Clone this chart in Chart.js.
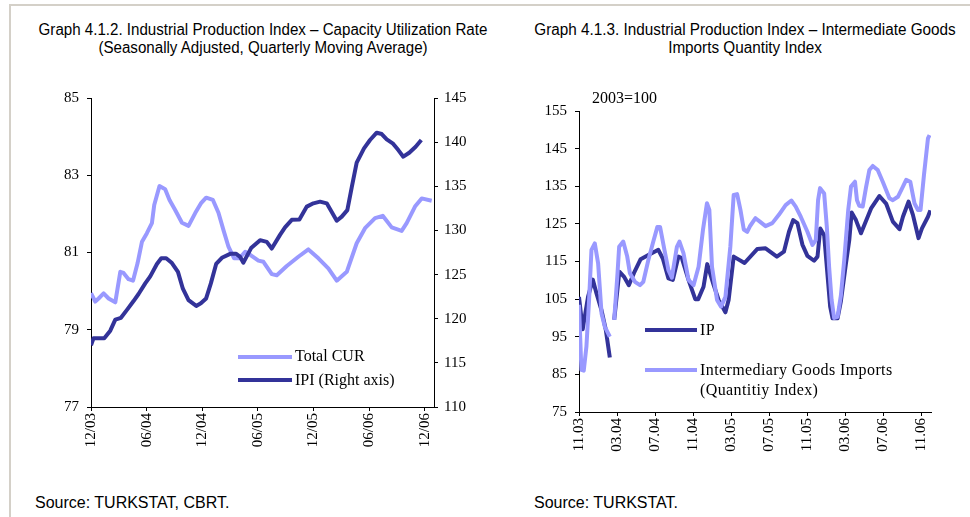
<!DOCTYPE html>
<html><head><meta charset="utf-8">
<script src="https://cdn.jsdelivr.net/npm/chart.js@4.4.1/dist/chart.umd.min.js"></script>
<style>
html,body{margin:0;padding:0;background:#fff;}
body{width:970px;height:517px;position:relative;overflow:hidden;font-family:"Liberation Sans",Arial,sans-serif;}
.frame-top{position:absolute;left:9px;top:4px;width:961px;height:2px;background:#d4d0c8;}
.frame-left{position:absolute;left:9px;top:4px;width:2px;height:513px;background:#d4d0c8;}
.tb{position:absolute;width:600px;text-align:center;}
.t{display:block;font-size:16px;color:#000;white-space:nowrap;line-height:18px;transform:scaleX(0.945);transform-origin:center;}
.src{position:absolute;font-size:16px;color:#000;white-space:nowrap;line-height:18px;}
canvas{position:absolute;}
.leg{position:absolute;font-family:"Liberation Serif","DejaVu Serif",serif;font-size:16px;color:#000;white-space:nowrap;line-height:18px;}
.sw{position:absolute;height:4px;}
</style>
</head>
<body>
<div class="frame-top"></div>
<div class="frame-left"></div>

<div class="tb" style="left:-37px;top:21px;">
  <span class="t">Graph 4.1.2. Industrial Production Index – Capacity Utilization Rate</span>
  <span class="t">(Seasonally Adjusted, Quarterly Moving Average)</span>
</div>
<div class="tb" style="left:445px;top:21px;">
  <span class="t" style="transform:scaleX(0.955);">Graph 4.1.3. Industrial Production Index – Intermediate Goods</span>
  <span class="t" style="transform:scaleX(0.955);">Imports Quantity Index</span>
</div>

<canvas id="c1" width="440" height="400" style="left:40px;top:80px;"></canvas>
<canvas id="c2" width="440" height="400" style="left:530px;top:80px;"></canvas>

<div class="leg" style="left:592px;top:89px;">2003=100</div>

<div class="sw" style="left:238px;top:355px;width:54px;background:#9999FF;"></div>
<div class="leg" style="left:295px;top:347px;">Total CUR</div>
<div class="sw" style="left:238px;top:378px;width:54px;background:#333399;"></div>
<div class="leg" style="left:295px;top:371px;">IPI (Right axis)</div>

<div class="sw" style="left:645px;top:328px;width:52px;background:#333399;"></div>
<div class="leg" style="left:700px;top:321px;letter-spacing:0.4px;">IP</div>
<div class="sw" style="left:645px;top:368px;width:52px;background:#9999FF;"></div>
<div class="leg" style="left:700px;top:361px;letter-spacing:0.4px;">Intermediary Goods Imports</div>
<div class="leg" style="left:700px;top:381px;letter-spacing:0.4px;">(Quantitiy Index)</div>

<div class="src" style="left:35px;top:494px;">Source: TURKSTAT, CBRT.</div>
<div class="src" style="left:534px;top:494px;">Source: TURKSTAT.</div>

<script>
// ---- Graph 4.1.2 (months counted from 12/03) ----
const leftTickLabels = ['12/03','06/04','12/04','06/05','12/05','06/06','12/06'];
const leftTickMonths = [0,6,12,18,24,30,36];
const curMonths = [0,0.46,0.82,1.36,1.90,2.62,3.16,3.51,4.05,4.53,5.02,5.50,6.03,6.57,6.82,7.39,8.00,8.47,9.08,9.81,10.52,11.24,11.85,12.42,13.15,13.75,14.29,14.83,15.44,16.01,16.63,17.17,18.06,18.60,19.50,20.04,21.12,22.37,23.45,24.53,25.60,26.51,27.59,28.66,29.56,30.64,31.47,32.44,33.51,34.05,34.95,35.67,36.75];
const curValues = [79.95,79.73,79.81,79.94,79.81,79.71,80.50,80.47,80.31,80.27,80.72,81.28,81.50,81.76,82.23,82.72,82.64,82.36,82.10,81.77,81.69,82.02,82.27,82.42,82.36,82.03,81.58,81.15,80.85,80.85,81.02,80.94,80.79,80.76,80.44,80.41,80.65,80.89,81.08,80.85,80.59,80.27,80.50,81.24,81.63,81.89,81.95,81.65,81.56,81.76,82.19,82.40,82.34];
const ipiMonths = [0,0.28,1.43,2.08,2.62,3.23,3.88,4.59,5.13,5.85,6.39,7.11,7.58,8.11,8.73,9.38,9.91,10.52,11.35,11.85,12.42,12.93,13.50,14.12,15.01,15.66,16.09,16.44,17.27,18.24,18.96,19.50,20.39,20.93,21.66,22.48,23.28,23.99,24.71,25.43,25.97,26.51,27.05,27.65,28.13,28.66,29.45,30.10,30.82,31.36,31.90,32.54,33.15,33.69,34.33,35.02,35.63];
const ipiValues = [117.0,117.8,117.8,118.65,119.9,120.1,121.0,122.0,122.8,124.0,124.8,126.2,126.85,126.85,126.3,125.3,123.4,122.1,121.45,121.75,122.3,124.0,126.2,126.9,127.35,127.35,127.0,126.35,128.0,128.9,128.7,127.95,129.5,130.35,131.2,131.25,132.7,133.07,133.26,133.07,132.1,131.1,131.56,132.3,134.9,137.67,139.3,140.24,141.07,140.92,140.32,139.87,139.1,138.35,138.8,139.48,140.24];

// ---- Graph 4.1.3 (months counted from 11.03) ----
const rightTickLabels = ['11.03','03.04','07.04','11.04','03.05','07.05','11.05','03.06','07.06','11.06'];
const rightTickMonths = [0,4,8,12,16,20,24,28,32,36];
const ipMonths = [0,0.39,0.95,1.45,1.84,2.37,2.82,3.24,3.47,3.70,4.24,4.72,5.24,5.77,6.48,7.29,8.34,8.81,9.40,9.86,10.45,10.81,11.51,12.22,12.53,13.09,13.48,14.15,14.68,15.39,15.73,16.26,17.40,18.73,19.61,20.80,21.54,22.07,22.51,22.96,23.48,24.01,24.71,25.07,25.36,25.77,26.40,26.65,27.18,27.53,28.06,28.41,28.66,29.11,29.64,30.70,31.57,32.28,32.99,33.69,34.05,34.64,35.10,35.69,36.05,36.68,36.93];
const ipValues = [105.6,97.0,105.6,110.2,106.5,102.0,96.8,89.5,null,99.5,112.3,111.0,108.7,111.9,115.6,116.7,118.1,115.8,110.5,110.1,116.3,115.9,110.1,105.0,105.0,108.3,114.3,108.8,104.8,101.5,104.8,116.3,114.6,118.3,118.5,116.3,117.6,122.9,126.0,125.2,119.5,116.5,115.2,116.3,123.8,122.0,103.0,99.9,99.9,104.5,114.5,120.7,128.0,126.0,122.5,129.1,132.4,130.4,125.6,123.6,126.9,130.9,127.4,121.2,123.8,126.9,128.6];
const impMonths = [0,0.25,0.50,0.78,1.06,1.31,1.66,2.01,2.37,2.71,3.24,3.47,3.70,4.05,4.22,4.65,5.07,5.35,5.88,6.41,6.76,7.29,7.81,8.24,8.52,8.98,9.40,9.76,10.29,10.56,10.98,11.51,12.04,12.57,13.03,13.45,13.70,13.98,14.51,14.93,15.39,15.91,16.26,16.62,16.97,17.32,17.68,17.95,18.55,19.01,19.61,20.32,21.01,21.72,22.32,22.78,23.31,24.01,24.54,24.89,25.13,25.34,25.77,26.05,26.29,26.55,26.82,27.18,27.53,27.88,28.30,28.59,29.01,29.22,29.46,29.82,30.17,30.52,30.88,31.40,31.93,32.63,32.99,33.52,34.05,34.39,34.82,35.27,35.63,35.90,36.26,36.68,36.85];
const impValues = [103.5,86.2,86.0,92.4,104.8,118.1,119.8,114.5,101.2,97.7,95.0,null,99.5,111.9,118.9,120.3,116.3,111.9,109.6,108.7,109.6,115.4,120.3,124.2,124.2,118.1,112.7,110.7,118.9,120.3,117.2,110.1,108.7,113.6,123.4,130.5,128.7,113.6,104.8,103.0,105.6,119.0,132.7,132.9,128.7,123.5,122.9,124.3,126.5,125.6,124.4,125.2,127.4,130.0,131.2,129.6,126.9,122.9,119.4,120.7,131.3,134.5,133.1,124.2,113.6,104.8,100.0,100.3,106.0,115.4,128.7,134.9,136.2,131.3,129.8,129.6,134.7,139.3,140.4,139.3,136.2,131.8,131.3,132.2,134.9,136.7,136.2,130.4,128.7,128.7,138.0,147.7,148.6];

const DARK = '#333399', LIGHT = '#9999FF';
const serif = {family:'"Liberation Serif","Times New Roman",serif', size:15};

function pts(ms, vs){ return ms.map((m,i)=>({x:m, y:vs[i]})); }
function line(label, ms, vs, color, axis, order){
  return {label, data:pts(ms,vs), borderColor:color, backgroundColor:color, borderWidth:4,
    pointRadius:0, tension:0, borderJoinStyle:'round', yAxisID:axis, order, spanGaps:false};
}
function xAxis(tickMonths, tickLabels, h){
  return {type:'linear', position:'bottom', min:0, max:37,
    afterBuildTicks: s => { s.ticks = tickMonths.map(v=>({value:v})); },
    afterFit: s => { s.height = h; },
    grid:{drawOnChartArea:false, drawTicks:true, tickLength:4, color:'#000', lineWidth:1},
    border:{display:true, color:'#000', width:1},
    ticks:{autoSkip:false, minRotation:90, maxRotation:90, padding:2, color:'#000', font:serif,
      callback:(v,i)=>tickLabels[i]}};
}
function yAxis(pos, min, max, step, w, pad){
  return {type:'linear', position:pos, min, max,
    afterFit: s => { s.width = w; },
    grid:{drawOnChartArea:false, drawTicks:true, tickLength:4, color:'#000', lineWidth:1},
    border:{display:true, color:'#000', width:1},
    ticks:{stepSize:step, padding:pad, color:'#000', font:serif}};
}
const common = {responsive:false, animation:false, devicePixelRatio:1,
  plugins:{legend:{display:false}, tooltip:{enabled:false}}, events:[]};

new Chart(document.getElementById('c1'), {
  type:'line',
  data:{datasets:[
    line('Total CUR', curMonths, curValues, LIGHT, 'y', 1),
    line('IPI (Right axis)', ipiMonths, ipiValues, DARK, 'y2', 0)
  ]},
  options:Object.assign({}, common, {
    layout:{padding:{top:18, left:0, right:0, bottom:0}},
    scales:{
      x:xAxis(leftTickMonths, leftTickLabels, 73),
      y:yAxis('left', 77, 85, 2, 51, 8),
      y2:yAxis('right', 110, 145, 5, 46, 6)
    }})
});

new Chart(document.getElementById('c2'), {
  type:'line',
  data:{datasets:[
    line('IP', ipMonths, ipValues, DARK, 'y', 1),
    line('Intermediary Goods Imports (Quantitiy Index)', impMonths, impValues, LIGHT, 'y', 0)
  ]},
  options:Object.assign({}, common, {
    layout:{padding:{top:31, left:0, right:39, bottom:0}},
    scales:{
      x:xAxis(rightTickMonths, rightTickLabels, 68),
      y:yAxis('left', 75, 155, 10, 49, 8)
    }})
});
</script>
</body></html>
